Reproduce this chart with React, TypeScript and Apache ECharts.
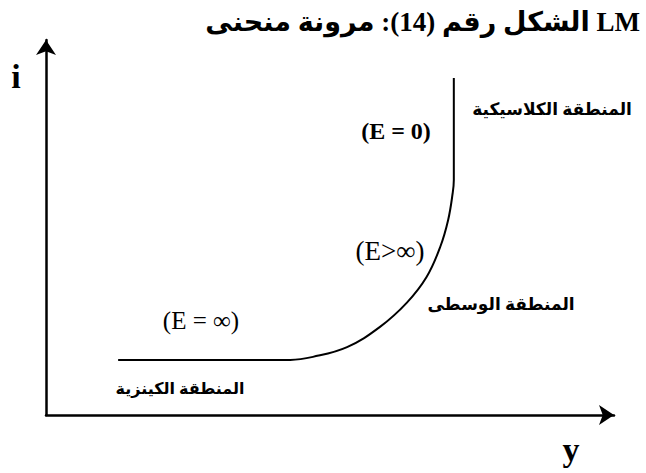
import React, { useEffect, useRef } from "react";
import * as echarts from "echarts";

// Output (y) and interest rate (i) along the LM curve, in axis units (0..100)
const outputValues = [12.7, 43, 47, 53, 58.8, 63.5, 67, 69.4, 70.8, 71.6, 71.8, 71.8];
const interestValues = [14.7, 14.7, 15.5, 18.1, 23.5, 29.9, 36.8, 44.8, 52, 59.2, 62.7, 89.9];

const titleText = "الشكل رقم (14): مرونة منحنى LM";
const yAxisName = "i";
const xAxisName = "y";
const classicalZone = "المنطقة الكلاسيكية";
const intermediateZone = "المنطقة الوسطى";
const keynesianZone = "المنطقة الكينزية";
const elasticityZero = "(E = 0)";
const elasticityMid = "(E>∞)";
const elasticityInf = "(E = ∞)";

const SERIF = "'Liberation Serif', 'DejaVu Sans', serif";

export default function App() {
  const ref = useRef<HTMLDivElement>(null);
  useEffect(() => {
    if (!ref.current) return;
    const chart = echarts.init(ref.current, undefined, { renderer: "svg" });
    const data = outputValues.map((x, k) => [x, interestValues[k]]);
    const axisLine = {
      show: true,
      symbol: ["none", "arrow"],
      symbolSize: [15, 15],
      lineStyle: { color: "#000", width: 2.5 },
    };
    chart.setOption({
      animation: false,
      backgroundColor: "#fff",
      grid: { left: 46, right: 32, top: 40, bottom: 58 },
      xAxis: {
        type: "value",
        min: 0,
        max: 100,
        axisLine,
        axisTick: { show: false },
        axisLabel: { show: false },
        splitLine: { show: false },
      },
      yAxis: {
        type: "value",
        min: 0,
        max: 100,
        axisLine,
        axisTick: { show: false },
        axisLabel: { show: false },
        splitLine: { show: false },
      },
      series: [
        {
          type: "line",
          data,
          smooth: 0.4,
          showSymbol: false,
          symbol: "none",
          lineStyle: { color: "#000", width: 2 },
        },
      ],
      graphic: [
        { type: "text", x: 640, y: 22, style: { text: titleText, font: `bold 27px ${SERIF}`, fill: "#000", align: "right", verticalAlign: "middle" } },
        { type: "text", x: 16, y: 76, style: { text: yAxisName, font: `bold 34px ${SERIF}`, fill: "#000", align: "center", verticalAlign: "middle" } },
        { type: "text", x: 571, y: 449, style: { text: xAxisName, font: `bold 34px ${SERIF}`, fill: "#000", align: "center", verticalAlign: "middle" } },
        { type: "text", x: 396, y: 131, style: { text: elasticityZero, font: `bold 24px ${SERIF}`, fill: "#000", align: "center", verticalAlign: "middle" } },
        { type: "text", x: 390, y: 251, style: { text: elasticityMid, font: `27px ${SERIF}`, fill: "#000", align: "center", verticalAlign: "middle" } },
        { type: "text", x: 201, y: 320, style: { text: elasticityInf, font: `25px ${SERIF}`, fill: "#000", align: "center", verticalAlign: "middle" } },
        { type: "text", x: 552, y: 109, style: { text: classicalZone, font: `bold 17px ${SERIF}`, fill: "#000", align: "center", verticalAlign: "middle" } },
        { type: "text", x: 501, y: 304, style: { text: intermediateZone, font: `bold 17px ${SERIF}`, fill: "#000", align: "center", verticalAlign: "middle" } },
        { type: "text", x: 180, y: 388, style: { text: keynesianZone, font: `bold 16px ${SERIF}`, fill: "#000", align: "center", verticalAlign: "middle" } },
      ],
    });
    return () => chart.dispose();
  }, []);
  return <div ref={ref} style={{ width: 646, height: 473, position: "absolute", left: 0, top: 0 }} />;
}
